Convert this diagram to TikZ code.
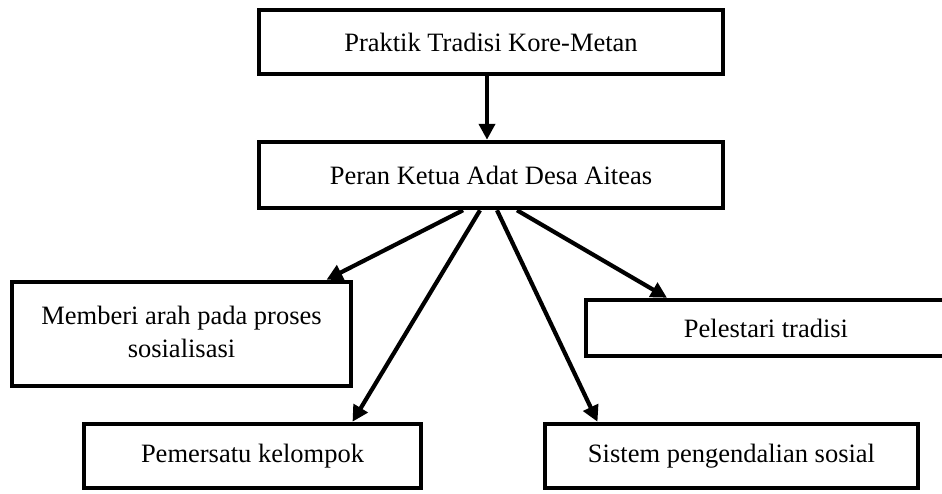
\documentclass[tikz,border=0pt]{standalone}
\usepackage{fontspec}
\setmainfont{Liberation Serif}
\usetikzlibrary{arrows.meta}
\begin{document}
\begin{tikzpicture}[x=1pt,y=-1pt,
  box/.style={draw=black,line width=4.5pt,rectangle,inner sep=0pt,align=center,
    font=\fontsize{26.5}{34}\selectfont},
  arr/.style={line width=4.2pt,-{Triangle[length=16pt,width=16pt]}}]
\useasboundingbox (0,0) rectangle (942,493);
\node[box,minimum width=464pt,minimum height=64pt] (b1) at (491,42) {Praktik Tradisi Kore-Metan};
\node[box,minimum width=464pt,minimum height=66pt] (b2) at (491,175) {Peran Ketua Adat Desa Aiteas};
\node[box,minimum width=339pt,minimum height=104pt] (m) at (181.5,334) {\raisebox{8pt}{\begin{tabular}{@{}c@{}}Memberi arah pada proses\\[-1pt]sosialisasi\end{tabular}}};
\node[box,minimum width=337pt,minimum height=64pt] (p) at (252.5,456) {Pemersatu kelompok};
\node[box,minimum width=373pt,minimum height=64pt] (s) at (731.5,456) {Sistem pengendalian sosial};
\node[box,minimum width=360pt,minimum height=56pt] (l) at (766,328) {Pelestari tradisi};
\draw[arr] ([xshift=-4pt]b1.south) -- ([xshift=-4pt]b2.north);
\draw[arr] ([xshift=-28pt]b2.south) -- ([xshift=145pt]m.north);
\draw[arr] ([xshift=-11pt]b2.south) -- ([xshift=100pt]p.north);
\draw[arr] ([xshift=6pt]b2.south) -- ([xshift=-134pt]s.north);
\draw[arr] ([xshift=26pt]b2.south) -- ([xshift=-99pt]l.north);
\end{tikzpicture}
\end{document}
